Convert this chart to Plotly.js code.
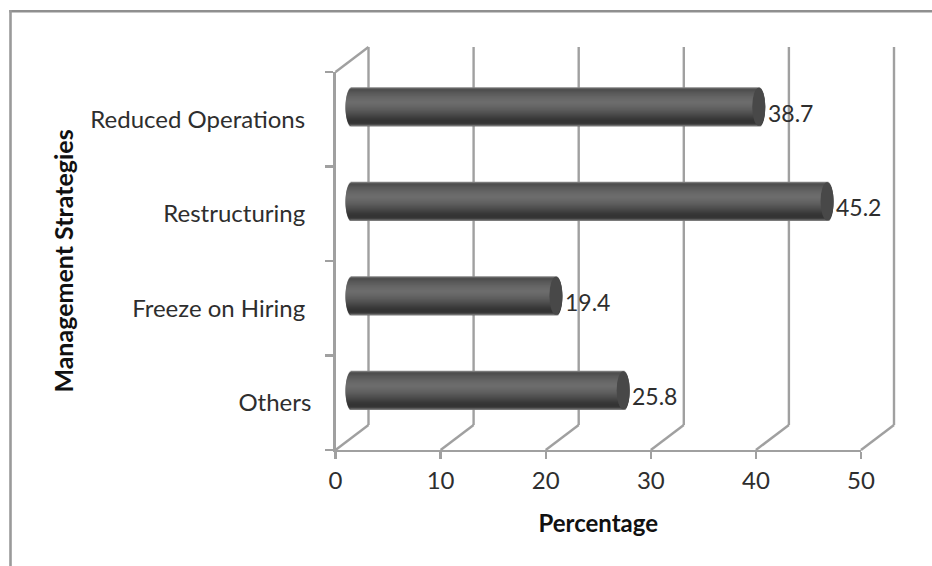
<!DOCTYPE html>
<html><head><meta charset="utf-8">
<script src="https://cdn.plot.ly/plotly-3.0.1.min.js"></script>
<style>html,body{margin:0;padding:0;background:#fff}#c{width:932px;height:566px}</style>
</head><body><div id="c"></div>
<script>
// Data
const categories = ["Reduced Operations", "Restructuring", "Freeze on Hiring", "Others"];
const values = [38.7, 45.2, 19.4, 25.8];
const labelPadding = [1, 1, 1, 0];
const xTicks = [0, 10, 20, 30, 40, 50];
const xTitle = "Percentage";
const yTitle = "Management Strategies";
// Cylinder shading, top to bottom
const bandColors = ["#858585","#5a5a5a","#4e4e4e","#505050","#545454","#585858","#5b5b5b","#5e5e5e","#616161","#646464","#666666","#686868","#6a6a6a","#6b6b6b","#6c6c6c","#6c6c6c","#6b6b6b","#696969","#676767","#656565","#626262","#5f5f5f","#5c5c5c","#595959","#555555","#525252","#4e4e4e","#4a4a4a","#464646","#424242","#3e3e3e","#3a3a3a","#373737","#353535","#343434","#343434","#3a3a3a","#505050","#7a7a7a"];

// Layout geometry in pixels
const W = 932, H = 566;
const F = {l: 335.5, r: 861, t: 72, b: 450};
const depth = {x: 33, y: 25};
const capR = 6.5, barPx = 39;
const gridColor = "#a0a0a0", textColor = "#2e2e2e", font = "Lato, Carlito, sans-serif";
const px = v => v / W, py = v => 1 - v / H;
const xMin = xTicks[0], xMax = xTicks[xTicks.length - 1];
const pxPerUnit = (F.r - F.l) / (xMax - xMin);
const bandPx = (F.b - F.t) / categories.length;
const xOnPaper = t => px(F.l + (t - xMin) * pxPerUnit);

const traces = [{
  type: "scatter", mode: "none", x: values, y: categories, xaxis: "x", yaxis: "y", hoverinfo: "skip", showlegend: false
}];
const N = bandColors.length, hUnit = barPx / bandPx, strip = hUnit / N;
bandColors.forEach((col, i) => {
  const t = ((i + 0.5) / N) * 2 - 1;
  const round = capR * Math.sqrt(Math.max(0, 1 - t * t)) / pxPerUnit;
  traces.push({
    type: "bar", orientation: "h", xaxis: "x2", yaxis: "y2",
    y: categories,
    base: values.map(() => -round),
    x: values.map(v => v + 2 * round),
    width: i === N - 1 ? strip : strip * 2,
    offset: -hUnit / 2 + i * strip,
    marker: {color: col, line: {width: 0}},
    hoverinfo: "skip", showlegend: false
  });
});

const shapes = [];
const line = (x, y0, y1, xa, xb, anchorY) => shapes.push({
  type: "line", layer: "below", xref: "paper", xsizemode: "pixel", xanchor: xOnPaper(x), x0: xa, x1: xb,
  yref: "paper", ysizemode: "pixel", yanchor: py(anchorY), y0: y0, y1: y1,
  line: {color: gridColor, width: 2.4}
});
xTicks.forEach(t => {
  line(t, 0, depth.y, 0, depth.x, F.b);
  line(t, 0, F.b - F.t, depth.x, depth.x, F.b - depth.y);
});
line(xTicks[0], 0, depth.y, 0, depth.x, F.t);
// Chart frame
shapes.push({type: "line", xref: "paper", yref: "paper", x0: px(9.3), x1: 1, y0: py(11.3), y1: py(11.3), line: {color: "#8f8f8f", width: 2.6}});
shapes.push({type: "line", xref: "paper", yref: "paper", x0: px(10.5), x1: px(10.5), y0: py(10), y1: 0, line: {color: "#9a9a9a", width: 2.6}});
// End caps of the cylinders
categories.forEach((c, i) => shapes.push({
  type: "circle", layer: "above", xref: "x2", yref: "y2",
  xsizemode: "pixel", xanchor: values[i], x0: -capR, x1: capR,
  ysizemode: "pixel", yanchor: i, y0: -barPx / 2 + 0.5, y1: barPx / 2 - 0.5,
  fillcolor: "#484848", line: {width: 0}
}));

const annotations = categories.map((c, i) => ({
  xref: "x2", yref: "y2", x: values[i], y: c, text: String(values[i]),
  xanchor: "left", yanchor: "middle", xshift: 7, yshift: -6, showarrow: false,
  font: {family: font, size: 23, color: textColor}
}));

const layout = {
  width: W, height: H, margin: {l: 0, r: 0, t: 0, b: 0},
  paper_bgcolor: "#fff", plot_bgcolor: "rgba(0,0,0,0)", showlegend: false, barmode: "overlay",
  xaxis: {
    domain: [px(F.l), px(F.r)], range: [xMin, xMax], anchor: "y",
    tickmode: "array", tickvals: xTicks, ticks: "outside", ticklen: 7, tickwidth: 2.4, tickcolor: gridColor,
    showline: true, linecolor: gridColor, linewidth: 2.4, showgrid: false, zeroline: false,
    ticklabelstandoff: 1,
    tickfont: {family: font, size: 24, color: textColor},
    title: {text: "<b>" + xTitle + "</b>", font: {family: font, size: 24, color: "#111"}, standoff: 22}
  },
  yaxis: {
    domain: [py(F.b), py(F.t)], type: "category", categoryorder: "array", categoryarray: categories,
    range: [categories.length - 0.5, -0.5], anchor: "x",
    tickmode: "array", tickvals: categories, ticktext: categories.map((c, i) => c + "\u00a0".repeat(labelPadding[i])),
    tickson: "boundaries", ticks: "outside", ticklen: 8, tickwidth: 2.4, tickcolor: gridColor,
    showline: true, linecolor: gridColor, linewidth: 2.4, showgrid: false, zeroline: false,
    ticklabelstandoff: 17,
    tickfont: {family: font, size: 24, color: textColor},
    title: {text: "<b>" + yTitle + "</b>", font: {family: font, size: 25, color: "#111"}, standoff: 10}
  },
  xaxis2: {
    domain: [px(F.l + depth.x / 2 - pxPerUnit), px(F.r + depth.x / 2)], range: [xMin - 1, xMax],
    anchor: "y2", visible: false, fixedrange: true
  },
  yaxis2: {
    domain: [py(F.b - depth.y / 2), py(F.t - depth.y / 2)], type: "category", categoryorder: "array", categoryarray: categories,
    range: [categories.length - 0.5, -0.5], anchor: "x2", visible: false, fixedrange: true
  },
  shapes, annotations
};
Plotly.newPlot("c", traces, layout, {staticPlot: true, displayModeBar: false});
</script></body></html>
